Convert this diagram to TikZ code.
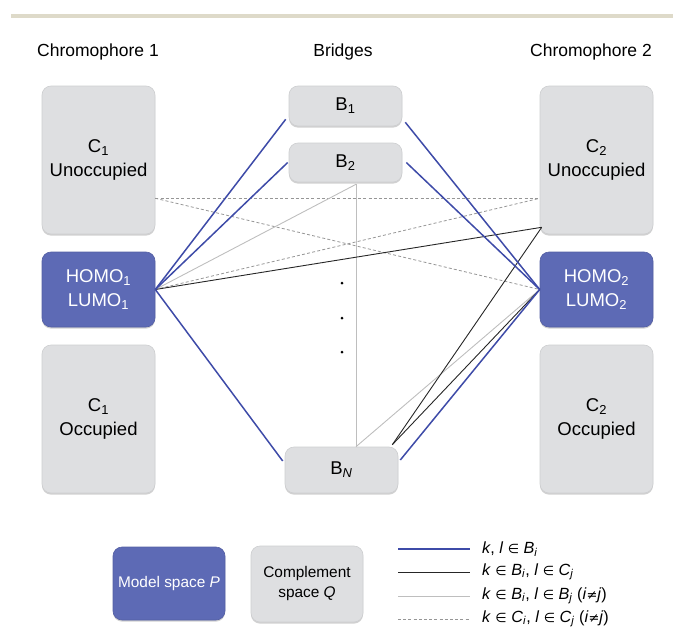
\documentclass[tikz,border=0pt]{standalone}
\usepackage{fontspec}
\setmainfont{Liberation Sans}
\newfontfamily\symf[Scale=0.8]{DejaVu Sans}
\usetikzlibrary{calc,shadows}
\definecolor{boxblue}{RGB}{93,106,181}
\definecolor{boxgray}{RGB}{222,223,225}
\definecolor{boxedge}{RGB}{205,206,208}
\definecolor{lineblue}{RGB}{62,75,168}
\definecolor{linegray}{RGB}{190,190,190}
\definecolor{linedash}{RGB}{150,150,150}
\definecolor{beige}{RGB}{222,218,201}
\newcommand{\sub}[1]{\textsubscript{#1}}
\newcommand{\itx}[1]{\textit{#1}}
\begin{document}
\begin{tikzpicture}[x=1pt,y=-1pt,
  basebox/.style={rounded corners=9pt, align=center, inner sep=0pt,
    drop shadow={shadow xshift=0pt, shadow yshift=-1.6pt, fill=black!40, opacity=0.45}},
  qbox/.style={basebox, fill=boxgray, draw=boxedge, line width=0.6pt, text=black},
  pbox/.style={basebox, fill=boxblue, draw=boxblue!90!black, line width=0.6pt, text=white},
  bigtext/.style={font=\fontsize{18.5}{24}\selectfont},
  smalltext/.style={font=\fontsize{15.4}{20}\selectfont},
  title/.style={font=\fontsize{17.5}{21}\selectfont, inner sep=0pt},
  kbb/.style={draw=lineblue, line width=1.5pt},
  kbc/.style={draw=black!85, line width=0.9pt},
  kbbij/.style={draw=linegray, line width=0.9pt},
  kcc/.style={draw=linedash, line width=0.8pt, dash pattern=on 3pt off 2.2pt},
  legtext/.style={anchor=west, inner sep=0pt, font=\fontsize{16.2}{19}\selectfont},
  dotmark/.style={fill=black, circle, inner sep=0pt, minimum size=3pt}
]
\useasboundingbox (0,0) rectangle (673,632);
\fill[beige] (11,14) rectangle (673,18);

% titles
\node[title] (t1) at (98,52) {Chromophore 1};
\node[title] (tb) at (343,52) {Bridges};
\node[title] (t2) at (591,52) {Chromophore 2};

% boxes
\node[qbox, bigtext, minimum width=113pt, minimum height=148pt] (C1U) at (98.5,160) {C\sub{1}\\Unoccupied};
\node[pbox, bigtext, minimum width=113pt, minimum height=75pt] (H1) at (98.5,289.5) {HOMO\sub{1}\\LUMO\sub{1}};
\node[qbox, bigtext, minimum width=113pt, minimum height=148pt] (C1O) at (98.5,419) {C\sub{1}\\Occupied};
\node[qbox, bigtext, minimum width=113pt, minimum height=40pt] (B1) at (345.5,106) {B\sub{1}};
\node[qbox, bigtext, minimum width=113pt, minimum height=39pt] (B2) at (345.5,162.5) {B\sub{2}};
\node[qbox, bigtext, minimum width=113pt, minimum height=46pt] (BN) at (341.5,470) {B\sub{\itx{N}}};
\node[qbox, bigtext, minimum width=113pt, minimum height=148pt] (C2U) at (596.5,160) {C\sub{2}\\Unoccupied};
\node[pbox, bigtext, minimum width=113pt, minimum height=75pt] (H2) at (596.5,289.5) {HOMO\sub{2}\\LUMO\sub{2}};
\node[qbox, bigtext, minimum width=113pt, minimum height=148pt] (C2O) at (596.5,419) {C\sub{2}\\Occupied};

% anchor points
\coordinate (h1) at (H1.east);
\coordinate (h2) at (H2.west);
\coordinate (c1u) at ($(C1U.south east)+(0,-36)$);
\coordinate (c2u) at ($(C2U.south west)+(0,-36)$);
\coordinate (c2c) at ($(C2U.south west)+(2,-7)$);
\coordinate (b1l) at ($(B1.south west)+(-3,-7)$);
\coordinate (b1r) at ($(B1.south east)+(3,-4)$);
\coordinate (b2l) at ($(B2.west)+(-1,0)$);
\coordinate (b2r) at ($(B2.east)+(4,0)$);
\coordinate (b2b) at ($(B2.south)+(10.5,2)$);
\coordinate (bnt) at ($(BN.north)+(14.5,0)$);
\coordinate (bntr) at ($(BN.north east)+(-6,-2)$);
\coordinate (bnr) at ($(BN.east)+(2,-10)$);
\coordinate (bnl) at ($(BN.west)+(-2,-9)$);

% dashed k in C_i, l in C_j
\draw[kcc] (c1u) -- (c2u);
\draw[kcc] (c1u) -- (h2);
\draw[kcc] (h1) -- (c2u);
% gray k in B_i, l in B_j
\draw[kbbij] (h1) -- (b2b);
\draw[kbbij] (b2b) -- (bnt);
\draw[kbbij] (bnt) -- (h2);
% black k in B_i, l in C_j
\draw[kbc] (h1) -- (c2c);
\draw[kbc] (bntr) -- (c2c);
\draw[kbc] (bntr) -- (h2);
% blue k,l in B_i
\draw[kbb] (h1) -- (b1l);
\draw[kbb] (h1) -- (b2l);
\draw[kbb] (h1) -- (bnl);
\draw[kbb] (b1r) -- (h2);
\draw[kbb] (b2r) -- (h2);
\draw[kbb] (bnr) -- (h2);

% dots
\node[dotmark] (d1) at (342,283) {};
\node[dotmark] (d2) at (342,318) {};
\node[dotmark] (d3) at (342,352) {};

% legend boxes
\node[pbox, smalltext, minimum width=112pt, minimum height=73pt] (P) at (169,583.5) {Model space \itx{P}};
\node[qbox, smalltext, minimum width=112pt, minimum height=76pt] (Q) at (307,584) {Complement\\space \itx{Q}};

% legend lines
\coordinate (la1) at (398,549); \coordinate (lb1) at (470,549);
\coordinate (la2) at (398,572); \coordinate (lb2) at (470,572);
\coordinate (la3) at (398,596); \coordinate (lb3) at (470,596);
\coordinate (la4) at (398,619); \coordinate (lb4) at (470,619);
\draw[kbb] (la1) -- (lb1);
\draw[kbc] (la2) -- (lb2);
\draw[kbbij] (la3) -- (lb3);
\draw[kcc] (la4) -- (lb4);
\node[legtext] (l1) at (482,549) {\itx{k}, \itx{l} {\symf ∈} \itx{B}\sub{\itx{i}}};
\node[legtext] (l2) at (482,572) {\itx{k} {\symf ∈} \itx{B}\sub{\itx{i}}, \itx{l} {\symf ∈} \itx{C}\sub{\itx{j}}};
\node[legtext] (l3) at (482,596) {\itx{k} {\symf ∈} \itx{B}\sub{\itx{i}}, \itx{l} {\symf ∈} \itx{B}\sub{\itx{j}} (\itx{i}{\symf ≠}\itx{j})};
\node[legtext] (l4) at (482,619) {\itx{k} {\symf ∈} \itx{C}\sub{\itx{i}}, \itx{l} {\symf ∈} \itx{C}\sub{\itx{j}} (\itx{i}{\symf ≠}\itx{j})};
\end{tikzpicture}
\end{document}
